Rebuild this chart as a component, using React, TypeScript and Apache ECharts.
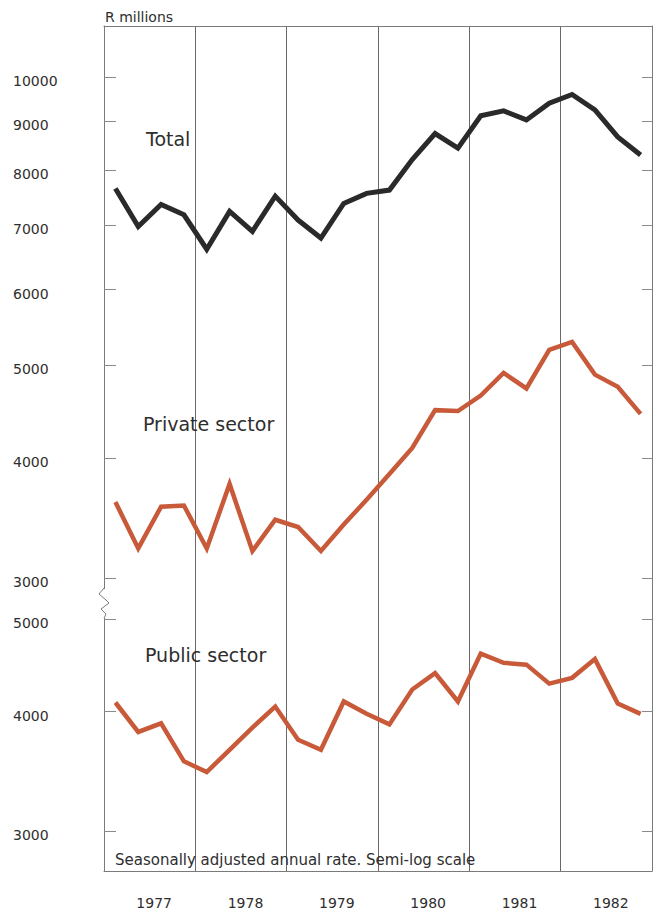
import React, { useEffect, useRef } from 'react';
import * as echarts from 'echarts';

// ---- Data ----
const years = ['1977', '1978', '1979', '1980', '1981', '1982'];
const quarterNames = ['Q1', 'Q2', 'Q3', 'Q4'];
const quarters = years.flatMap((y) => quarterNames.map((q) => `${y} ${q}`));

const totalValues = [
  7650, 6980, 7360, 7180, 6610, 7240, 6900, 7510, 7090, 6790, 7380, 7560,
  7620, 8200, 8730, 8430, 9110, 9220, 9020, 9390, 9590, 9240, 8660, 8290,
];
const privateValues = [
  3600, 3220, 3560, 3570, 3220, 3760, 3200, 3450, 3390, 3200, 3410, 3620,
  3850, 4100, 4490, 4480, 4650, 4910, 4730, 5190, 5290, 4890, 4750, 4450,
];
const publicValues = [
  4090, 3810, 3890, 3550, 3460, 3650, 3850, 4050, 3740, 3650, 4100, 3980,
  3880, 4220, 4390, 4100, 4600, 4500, 4480, 4280, 4340, 4540, 4080, 3980,
];

const upperTicks = [3000, 4000, 5000, 6000, 7000, 8000, 9000, 10000];
const lowerTicks = [3000, 4000, 5000];
const upperRange = [2879, 11305];
const lowerRange = [2727, 5297];

const seriesNames = ['Total', 'Private sector', 'Public sector'];
const noteText = 'Seasonally adjusted annual rate. Semi-log scale';
const unitText = 'R millions';

// ---- Styles ----
const FONT = '"DejaVu Sans", sans-serif';
const frameColor = '#7a7a7a';
const yearLineColor = '#6e6666';
const tickColor = '#8a8a8a';
const textColor = '#2e2e2e';
const totalColor = '#2a2a2a';
const sectorColor = '#c85a3a';

const log = (v: number) => Math.log10(v);

function yAxisDef(
  gridIndex: number,
  range: number[],
  ticks: number[],
  position: 'left' | 'right',
  showLabel: boolean
) {
  const tv = ticks.map(log);
  return {
    gridIndex,
    type: 'value',
    position,
    min: log(range[0]),
    max: log(range[1]),
    axisLine: { show: true, onZero: false, lineStyle: { color: frameColor, width: 1 } },
    axisTick: {
      show: true,
      inside: true,
      length: position === 'left' ? 12 : 10,
      customValues: tv,
      lineStyle: { color: tickColor, width: 1 },
    },
    axisLabel: {
      show: showLabel,
      customValues: tv,
      formatter: (v: number) => String(Math.round(Math.pow(10, v))),
      align: 'left',
      verticalAlign: 'top',
      lineHeight: 8,
      margin: 91,
      fontSize: 14,
      fontFamily: FONT,
      color: textColor,
    },
    splitLine: { show: false },
  };
}

function quarterAxis(gridIndex: number, position: 'top' | 'bottom') {
  return {
    gridIndex,
    type: 'category',
    data: quarters,
    position,
    boundaryGap: true,
    axisLine: { show: true, onZero: false, lineStyle: { color: frameColor, width: 1 } },
    axisTick: { show: false },
    axisLabel: { show: false },
    splitLine: { show: true, interval: 3, lineStyle: { color: yearLineColor, width: 1 } },
  };
}

function lineSeries(
  name: string,
  values: number[],
  xAxisIndex: number,
  yAxisIndex: number,
  color: string,
  width: number
) {
  return {
    name,
    type: 'line',
    xAxisIndex,
    yAxisIndex,
    data: values.map(log),
    symbol: 'none',
    silent: true,
    z: 5,
    lineStyle: { color, width, join: 'miter', cap: 'butt' },
  };
}

export default function App() {
  const ref = useRef<HTMLDivElement>(null);

  useEffect(() => {
    if (!ref.current) return;
    const chart = echarts.init(ref.current, undefined, { renderer: 'svg' });
    const option: any = {
      animation: false,
      backgroundColor: '#ffffff',
      textStyle: { fontFamily: FONT },
      grid: [
        { left: 104, right: 11, top: 26, height: 569 },
        { left: 104, right: 11, top: 595, height: 276 },
      ],
      xAxis: [
        quarterAxis(0, 'top'),
        quarterAxis(1, 'bottom'),
        {
          gridIndex: 1,
          type: 'category',
          data: years,
          position: 'bottom',
          boundaryGap: true,
          axisLine: { show: false },
          axisTick: { show: false },
          splitLine: { show: false },
          axisLabel: {
            margin: 25,
            fontSize: 14,
            fontFamily: FONT,
            color: textColor,
            padding: [0, 0, 0, 9],
          },
        },
      ],
      yAxis: [
        yAxisDef(0, upperRange, upperTicks, 'left', true),
        yAxisDef(0, upperRange, upperTicks, 'right', false),
        yAxisDef(1, lowerRange, lowerTicks, 'left', true),
        yAxisDef(1, lowerRange, lowerTicks, 'right', false),
      ],
      series: [
        lineSeries(seriesNames[0], totalValues, 0, 0, totalColor, 5),
        lineSeries(seriesNames[1], privateValues, 0, 0, sectorColor, 4.5),
        lineSeries(seriesNames[2], publicValues, 1, 2, sectorColor, 4.5),
      ],
      graphic: [
        {
          type: 'text',
          x: 105,
          y: 17,
          z: 100,
          style: { text: unitText, font: `14px ${FONT}`, fill: textColor, align: 'left', verticalAlign: 'middle' },
        },
        {
          type: 'text',
          x: 146,
          y: 139,
          z: 100,
          style: { text: seriesNames[0], font: `19px ${FONT}`, fill: textColor, align: 'left', verticalAlign: 'middle' },
        },
        {
          type: 'text',
          x: 143,
          y: 424,
          z: 100,
          style: { text: seriesNames[1], font: `19px ${FONT}`, fill: textColor, align: 'left', verticalAlign: 'middle' },
        },
        {
          type: 'text',
          x: 145,
          y: 655,
          z: 100,
          style: { text: seriesNames[2], font: `19px ${FONT}`, fill: textColor, align: 'left', verticalAlign: 'middle' },
        },
        {
          type: 'text',
          x: 115,
          y: 860,
          z: 100,
          style: { text: noteText, font: `15px ${FONT}`, fill: textColor, align: 'left', verticalAlign: 'middle' },
        },
        {
          type: 'rect',
          z: 100,
          shape: { x: 101, y: 589, width: 6, height: 29 },
          style: { fill: '#ffffff' },
        },
        {
          type: 'polyline',
          z: 101,
          shape: {
            points: [
              [104, 588],
              [99, 594],
              [106, 600],
              [109, 603],
              [101, 609],
              [106, 614],
              [104, 618],
            ],
          },
          style: { stroke: frameColor, fill: 'none', lineWidth: 1 },
        },
      ],
    };
    chart.setOption(option);
    return () => chart.dispose();
  }, []);

  return (
    <div
      ref={ref}
      style={{ position: 'absolute', left: 0, top: 0, width: 663, height: 914, background: '#fff' }}
    />
  );
}
